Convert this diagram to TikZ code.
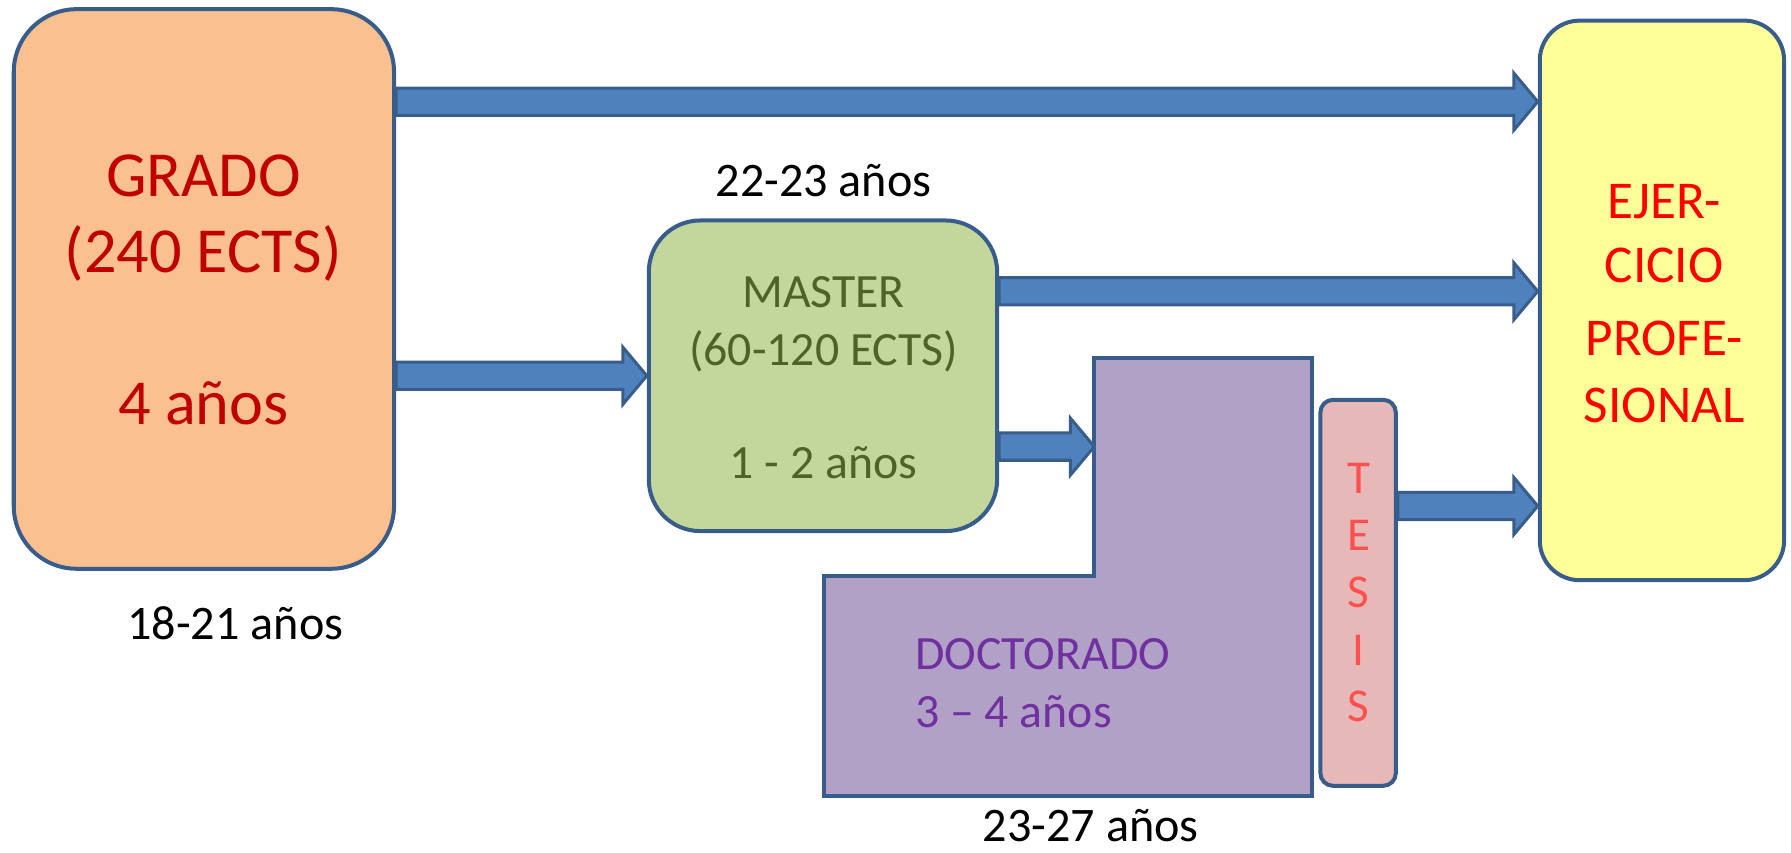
\documentclass[tikz,border=0pt]{standalone}
\usepackage{fontspec}
\setmainfont{Carlito}
\usetikzlibrary{calc,backgrounds}
\definecolor{bord}{HTML}{385D8A}
\definecolor{arrfill}{HTML}{4F81BD}
\definecolor{gradofill}{HTML}{FAC090}
\definecolor{gradotxt}{HTML}{C00000}
\definecolor{masterfill}{HTML}{C3D69B}
\definecolor{mastertxt}{HTML}{4F6228}
\definecolor{ejerfill}{HTML}{FFFF99}
\definecolor{ejertxt}{HTML}{FF0000}
\definecolor{docfill}{HTML}{B2A1C7}
\definecolor{doctxt}{HTML}{7030A0}
\definecolor{tesisfill}{HTML}{E6B9B8}
\definecolor{tesistxt}{HTML}{FF5050}
\tikzset{
  box/.style={draw=bord, line width=2pt, inner sep=0pt},
  barr/.style={draw=bord, fill=arrfill, line width=1.5pt, line join=miter},
  gtxt/.style={font=\fontsize{32}{38}\selectfont, text=gradotxt, anchor=base, inner sep=0pt},
  etxt/.style={font=\fontsize{26.5}{32}\selectfont, text=ejertxt, anchor=base, inner sep=0pt},
  mtxt/.style={font=\fontsize{23.8}{28}\selectfont, text=mastertxt, anchor=base, inner sep=0pt},
  dtxt/.style={font=\fontsize{23.8}{28}\selectfont, text=doctxt, anchor=base west, inner sep=0pt},
  ttxt/.style={font=\fontsize{23.5}{28}\selectfont, text=tesistxt, anchor=base, inner sep=0pt},
  agetxt/.style={font=\fontsize{24}{28}\selectfont, text=black, anchor=base, inner sep=0pt},
}
\newcommand{\barrow}[2]{%
  \path[barr] let \p1=(#1), \p2=(#2) in
    (\x1,\y1+6.8pt) -- (\x2-11.9pt,\y1+6.8pt) -- (\x2-11.9pt,\y1+14.2pt) -- (\x2,\y1)
    -- (\x2-11.9pt,\y1-14.2pt) -- (\x2-11.9pt,\y1-6.8pt) -- (\x1,\y1-6.8pt) -- cycle;}
\begin{document}
\begin{tikzpicture}[x=0.02cm, y=-0.02cm]
\useasboundingbox (0,0) rectangle (1568,746);
% boxes
\node[box, fill=gradofill, rounded corners=1.1cm, minimum width=6.66cm, minimum height=9.8cm] (grado) at (178.5,253) {};
\node[box, fill=masterfill, rounded corners=0.9cm, minimum width=6.1cm, minimum height=5.44cm] (master) at (720.5,329) {};
\node[box, fill=ejerfill, rounded corners=0.7cm, minimum width=4.28cm, minimum height=9.8cm] (ejer) at (1455,263) {};
\node[box, fill=tesisfill, rounded corners=0.22cm, minimum width=1.32cm, minimum height=6.76cm] (tesis) at (1189,519) {};
% doctorado L-shape
\draw[box, fill=docfill, line join=miter] (721,504) -- (958,504) -- (958,313) -- (1149,313) -- (1149,697) -- (721,697) -- cycle;
\coordinate (docstep) at (958,391);
% arrow levels
\coordinate (l1) at (0,89);
\coordinate (l2) at (0,329);
\coordinate (l3) at (0,255);
\coordinate (l4) at (0,391);
\coordinate (l5) at (0,443);
\begin{scope}[on background layer]
\barrow{grado.east |- l1}{ejer.west |- l1}
\barrow{grado.east |- l2}{master.west |- l2}
\barrow{master.east |- l3}{ejer.west |- l3}
\barrow{master.east |- l4}{docstep}
\barrow{tesis.east |- l5}{ejer.west |- l5}
\end{scope}
% texts
\node[gtxt] (g1) at (178,172) {GRADO};
\node[gtxt] (g2) at (178,239) {(240 ECTS)};
\node[gtxt] (g3) at (178,372) {4 años};
\node[agetxt] (age1) at (206,560) {18-21 años};
\node[agetxt] (age2) at (721,172) {22-23 años};
\node[agetxt, text depth=0pt] (age3) at (955,737) {23-27 años};
\node[mtxt] (m1) at (721,269) {MASTER};
\node[mtxt] (m2) at (721,320) {(60-120 ECTS)};
\node[mtxt] (m3) at (721,419) {1 - 2 años};
\node[dtxt] (d1) at (801,586) {DOCTORADO};
\node[dtxt] (d2) at (801,637) {3 – 4 años};
\node[etxt] (e1) at (1457,191) {EJER-};
\node[etxt] (e2) at (1457,247) {CICIO};
\node[etxt] (e3) at (1457,311) {PROFE-};
\node[etxt] (e4) at (1457,370) {SIONAL};
\node[ttxt] (t1) at (1189.5,432) {T};
\node[ttxt] (t2) at (1189.5,482) {E};
\node[ttxt] (t3) at (1189.5,532) {S};
\node[ttxt] (t4) at (1189.5,583) {I};
\node[ttxt] (t5) at (1189.5,632) {S};
\end{tikzpicture}
\end{document}
